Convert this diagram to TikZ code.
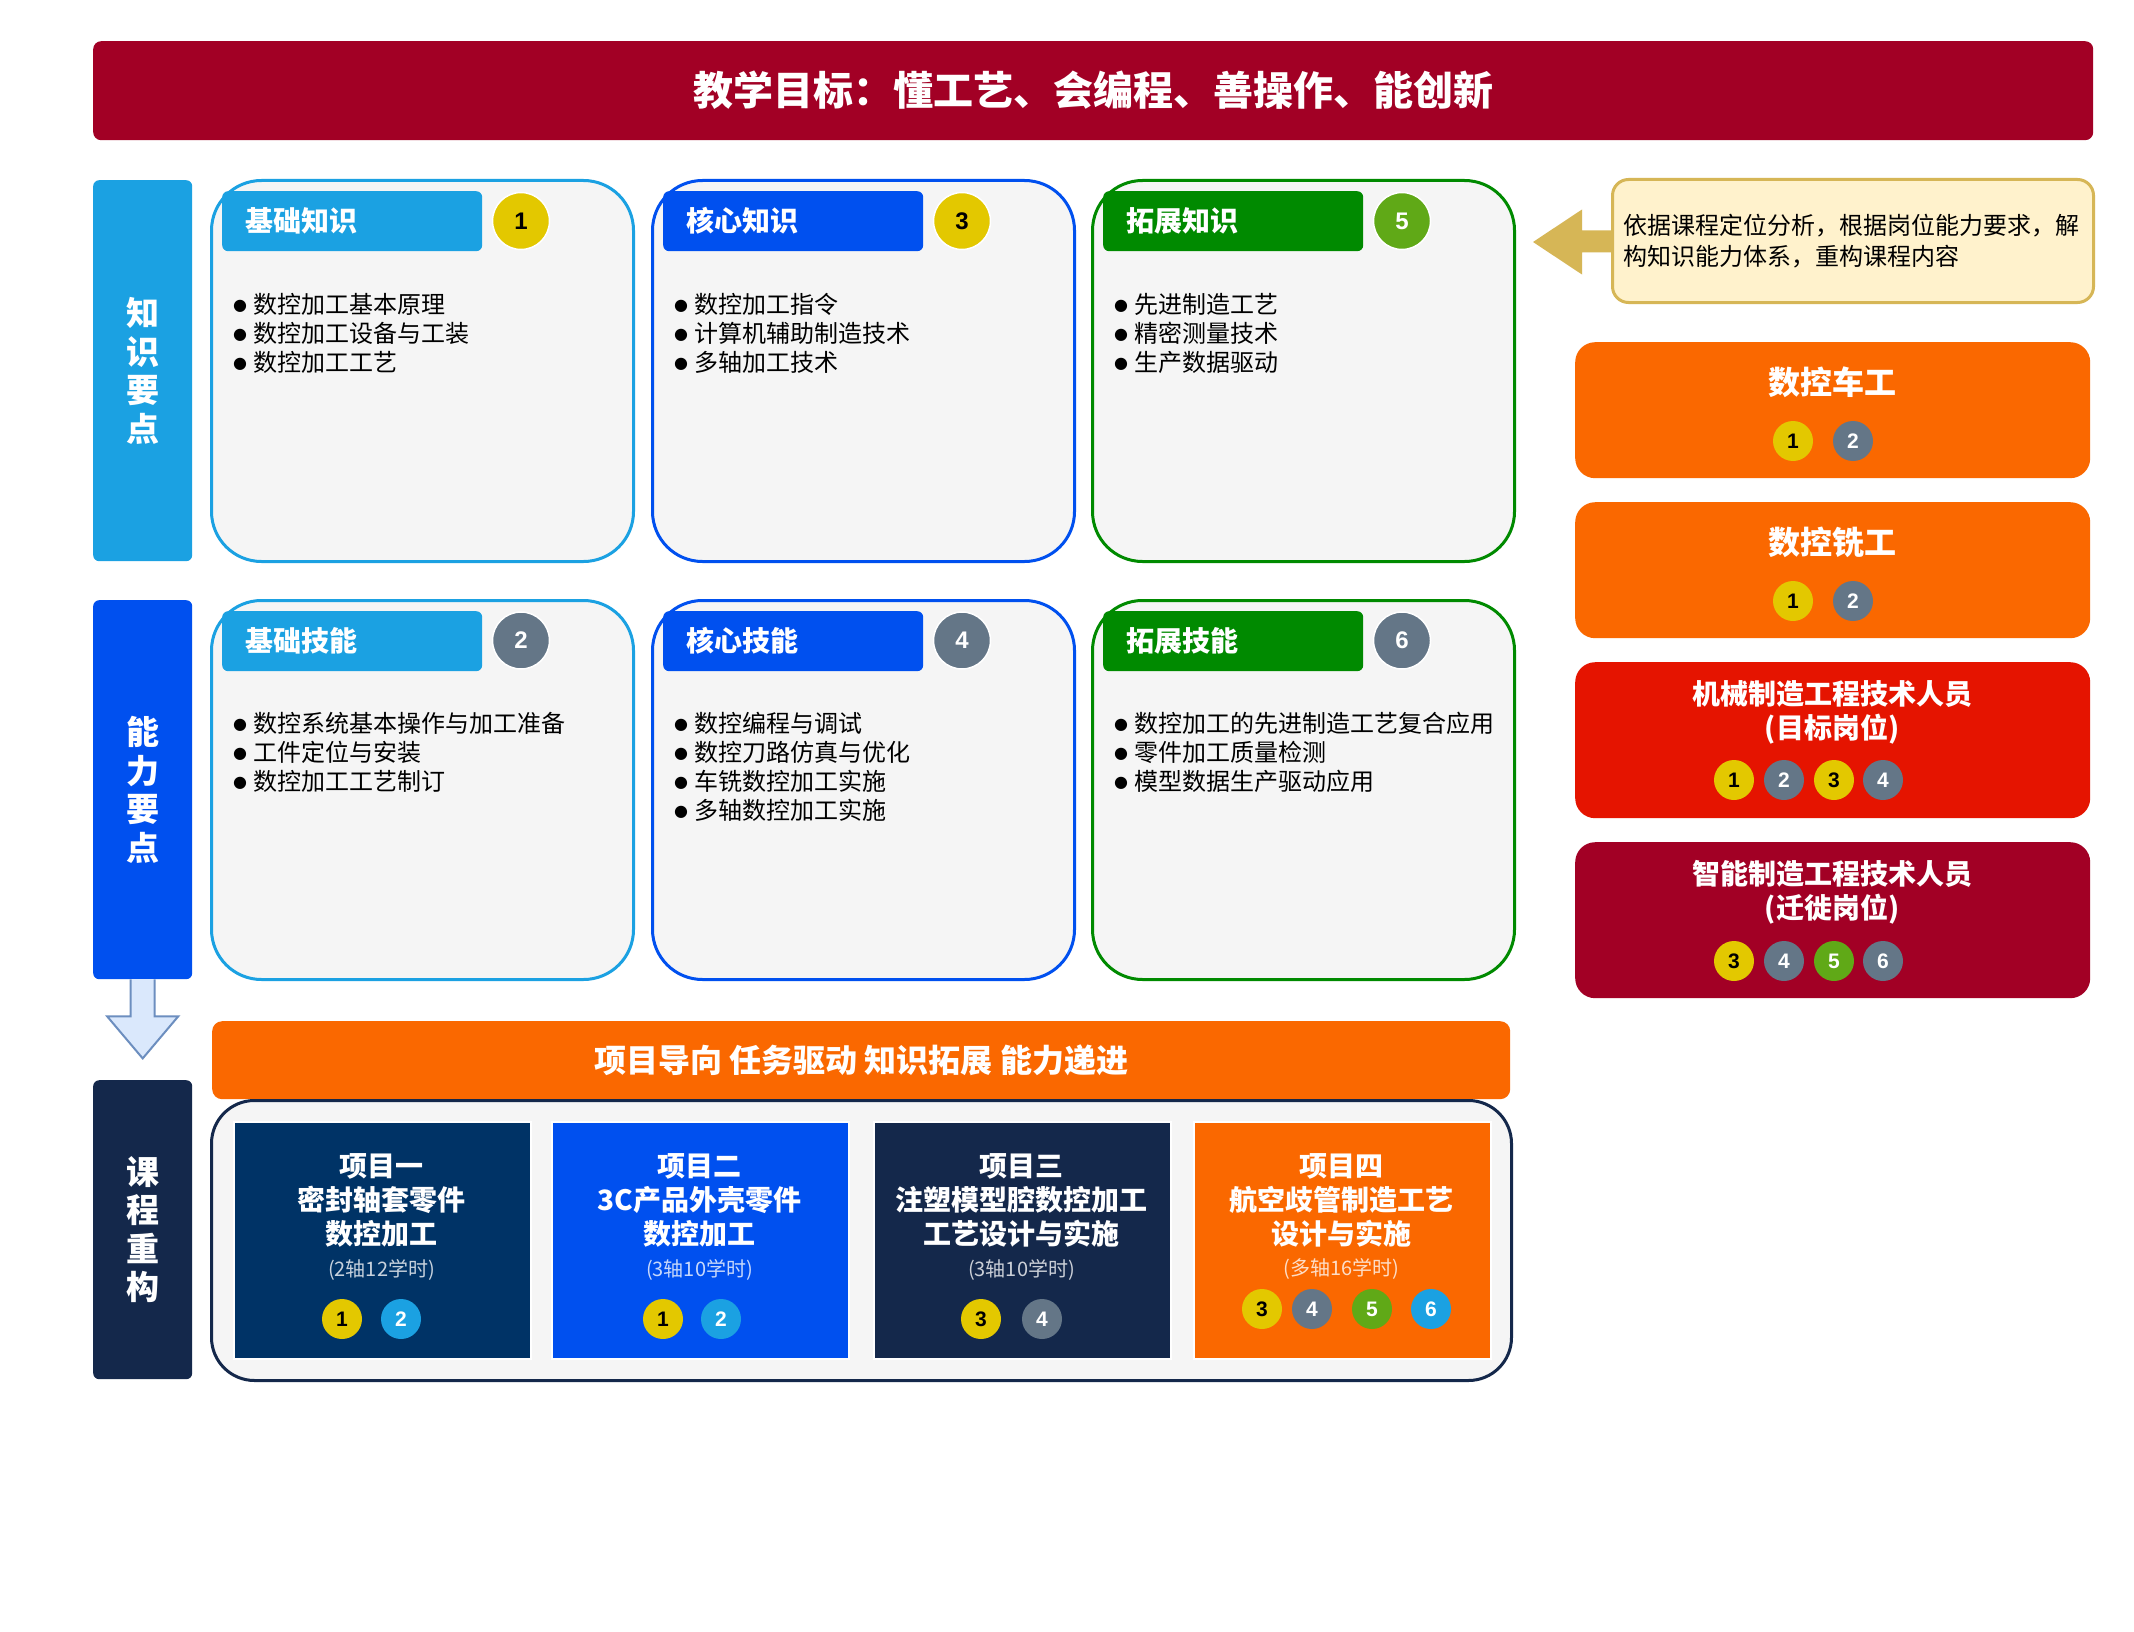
\documentclass[tikz,border=0pt]{standalone}
\usepackage{fontspec}
\setmainfont{Noto Sans CJK SC}
\newfontfamily\numf{Liberation Sans}
\newfontfamily\dejavu{DejaVu Sans}
\usetikzlibrary{calc}
\definecolor{titlered}{HTML}{A20025}
\definecolor{cA}{HTML}{1BA1E2}
\definecolor{cB}{HTML}{0050EF}
\definecolor{cC}{HTML}{008A00}
\definecolor{navy}{HTML}{14284B}
\definecolor{deepblue}{HTML}{003366}
\definecolor{orng}{HTML}{FA6800}
\definecolor{redc}{HTML}{E51400}
\definecolor{yel}{HTML}{E3C800}
\definecolor{slate}{HTML}{647687}
\definecolor{grn}{HTML}{60A917}
\definecolor{boxgray}{HTML}{F5F5F5}
\definecolor{notefill}{HTML}{FFF2CC}
\definecolor{notedraw}{HTML}{D6B656}
\definecolor{arrfill}{HTML}{DAE8FC}
\definecolor{arrdraw}{HTML}{6C8EBF}
\newcommand\fsz[2]{\fontsize{#1}{#2}\selectfont}
\newcommand\bul{\raisebox{3pt}{\dejavu\fontsize{16}{19}\selectfont ●}\hspace{6pt}}
\begin{document}
\begin{tikzpicture}[x=1pt,y=-1pt,
  sidebar/.style={fill=#1, rounded corners=6pt, minimum width=99pt, inner sep=0pt, anchor=north west, text=white, font=\bfseries\fsz{33}{38.5}, align=center},
  kbox/.style={draw=#1, fill=boxgray, line width=3pt, rounded corners=50pt, minimum width=422pt, minimum height=381pt, inner sep=0pt, anchor=north west},
  head/.style={fill=#1, rounded corners=6pt, text width=214pt, inner xsep=23pt, inner ysep=0pt, minimum height=60pt, align=left, anchor=north west, text=white, font=\bfseries\fsz{28}{34}},
  bignum/.style={circle, fill=#1, draw=white, line width=1.5pt, minimum size=57pt, inner sep=0pt, text=white, font=\numf\bfseries\fsz{24}{24}},
  smallnum/.style={circle, fill=#1, minimum size=40pt, inner sep=0pt, text=white, font=\numf\bfseries\fsz{21}{21}},
  dark/.style={text=black},
  bulletline/.style={anchor=west, inner sep=0pt, font=\fsz{24}{29}},
  card/.style={fill=#1, draw=white, line width=1.5pt, minimum width=297pt, minimum height=237pt, inner sep=0pt, anchor=north west},
  cardtitle/.style={text=white, font=\bfseries\fsz{28}{34}, align=center, inner sep=0pt},
  hours/.style={text=white, text opacity=0.78, font=\fsz{20}{24}, inner sep=0pt},
  job/.style={fill=#1, rounded corners=20pt, minimum width=515pt, inner sep=0pt, anchor=north west},
  jobtitle/.style={text=white, align=center, inner sep=0pt},
]
\useasboundingbox[fill=white] (0,0) rectangle (2134,1632);

% title
\node[fill=titlered, rounded corners=8pt, minimum width=2000pt, minimum height=99pt, inner sep=0pt, anchor=north west, text=white, font=\bfseries\fsz{40}{48}] (title) at (93,41) {教学目标：懂工艺、会编程、善操作、能创新};

% side bars
\node[sidebar=cA, minimum height=381pt] (kbar) at (93,180) {知\\识\\要\\点};
\node[sidebar=cB, minimum height=379pt] (abar) at (93,600) {能\\力\\要\\点};
\node[sidebar=navy, minimum height=299pt] (cbar) at (93,1080) {课\\程\\重\\构};

% knowledge row
\node[kbox=cA] (k1) at (210,179) {};
\node[head=cA] (k1h) at (222,191) {基础知识};
\node[bignum=yel, dark] (k1n) at (521,221) {1};
\node[bulletline] (k1a) at (233,304) {\bul 数控加工基本原理};
\node[bulletline] (k1b) at (233,333) {\bul 数控加工设备与工装};
\node[bulletline] (k1c) at (233,362) {\bul 数控加工工艺};

\node[kbox=cB] (k2) at (651,179) {};
\node[head=cB] (k2h) at (663,191) {核心知识};
\node[bignum=yel, dark] (k2n) at (962,221) {3};
\node[bulletline] (k2a) at (674,304) {\bul 数控加工指令};
\node[bulletline] (k2b) at (674,333) {\bul 计算机辅助制造技术};
\node[bulletline] (k2c) at (674,362) {\bul 多轴加工技术};

\node[kbox=cC] (k3) at (1091,179) {};
\node[head=cC] (k3h) at (1103,191) {拓展知识};
\node[bignum=grn] (k3n) at (1402,221) {5};
\node[bulletline] (k3a) at (1114,304) {\bul 先进制造工艺};
\node[bulletline] (k3b) at (1114,333) {\bul 精密测量技术};
\node[bulletline] (k3c) at (1114,362) {\bul 生产数据驱动};

% ability row
\node[kbox=cA, minimum height=379pt] (a1) at (210,599) {};
\node[head=cA] (a1h) at (222,611) {基础技能};
\node[bignum=slate] (a1n) at (521,640.5) {2};
\node[bulletline] (a1a) at (233,723) {\bul 数控系统基本操作与加工准备};
\node[bulletline] (a1b) at (233,752) {\bul 工件定位与安装};
\node[bulletline] (a1c) at (233,781) {\bul 数控加工工艺制订};

\node[kbox=cB, minimum height=379pt] (a2) at (651,599) {};
\node[head=cB] (a2h) at (663,611) {核心技能};
\node[bignum=slate] (a2n) at (962,640.5) {4};
\node[bulletline] (a2a) at (674,723) {\bul 数控编程与调试};
\node[bulletline] (a2b) at (674,752) {\bul 数控刀路仿真与优化};
\node[bulletline] (a2c) at (674,781) {\bul 车铣数控加工实施};
\node[bulletline] (a2d) at (674,810) {\bul 多轴数控加工实施};

\node[kbox=cC, minimum height=379pt] (a3) at (1091,599) {};
\node[head=cC] (a3h) at (1103,611) {拓展技能};
\node[bignum=slate] (a3n) at (1402,640.5) {6};
\node[bulletline] (a3a) at (1114,723) {\bul 数控加工的先进制造工艺复合应用};
\node[bulletline] (a3b) at (1114,752) {\bul 零件加工质量检测};
\node[bulletline] (a3c) at (1114,781) {\bul 模型数据生产驱动应用};

% down arrow from ability bar to course bar
\path[fill=arrfill, draw=arrdraw, line width=2pt, line join=miter]
  ($(abar.south)+(-12pt,0pt)$) -- ($(abar.south)+(-12pt,-37pt)$) -- ($(abar.south)+(-35.5pt,-37pt)$)
  -- ($(abar.south)+(0pt,-79pt)$) -- ($(abar.south)+(35.5pt,-37pt)$) -- ($(abar.south)+(12pt,-37pt)$)
  -- ($(abar.south)+(12pt,0pt)$);

% banner and project container
\node[fill=orng, rounded corners=10pt, minimum width=1298pt, minimum height=78pt, inner sep=0pt, anchor=north west, text=white, font=\bfseries\fsz{32}{38}] (banner) at (212,1021) {项目导向 任务驱动 知识拓展 能力递进};
\node[draw=navy, fill=boxgray, line width=3pt, rounded corners=43pt, minimum width=1300pt, minimum height=280pt, inner sep=0pt, anchor=north west] (cont) at (210,1099) {};

% project cards
\node[card=deepblue] (p1) at (233,1121) {};
\node[cardtitle] (p1t) at (381.5,1200) {项目一\\密封轴套零件\\数控加工};
\node[hours] (p1h) at (381.5,1270) {(2轴12学时)};
\node[smallnum=yel, dark] (p1a) at (342,1319) {1};
\node[smallnum=cA] (p1b) at (401,1319) {2};

\node[card=cB] (p2) at (551,1121) {};
\node[cardtitle] (p2t) at (699.5,1200) {项目二\\3C产品外壳零件\\数控加工};
\node[hours] (p2h) at (699.5,1270) {(3轴10学时)};
\node[smallnum=yel, dark] (p2a) at (663,1319) {1};
\node[smallnum=cA] (p2b) at (721,1319) {2};

\node[card=navy] (p3) at (873,1121) {};
\node[cardtitle] (p3t) at (1021.5,1200) {项目三\\注塑模型腔数控加工\\工艺设计与实施};
\node[hours] (p3h) at (1021.5,1270) {(3轴10学时)};
\node[smallnum=yel, dark] (p3a) at (981,1319) {3};
\node[smallnum=slate] (p3b) at (1042,1319) {4};

\node[card=orng] (p4) at (1193,1121) {};
\node[cardtitle] (p4t) at (1341.5,1200) {项目四\\航空歧管制造工艺\\设计与实施};
\node[hours] (p4h) at (1341.5,1269) {(多轴16学时)};
\node[smallnum=yel, dark] (p4a) at (1262,1309) {3};
\node[smallnum=slate] (p4b) at (1312,1309) {4};
\node[smallnum=grn] (p4c) at (1372,1309) {5};
\node[smallnum=cA] (p4d) at (1431,1309) {6};

% note and arrow
\node[fill=notefill, draw=notedraw, line width=3pt, rounded corners=16pt, minimum width=481pt, minimum height=123pt, inner sep=0pt, anchor=north west] (note) at (1611,178) {};
\node[anchor=west, align=left, inner sep=0pt, font=\fsz{24}{31}] (notet) at (1623,241.5) {依据课程定位分析，根据岗位能力要求，解\\构知识能力体系，重构课程内容};
\fill[notedraw] ($(note.west)+(1pt,10.5pt)$) -- ($(note.west)+(-29pt,10.5pt)$) -- ($(note.west)+(-29pt,31.5pt)$)
  -- ($(note.west)+(-78pt,-1pt)$) -- ($(note.west)+(-29pt,-33.5pt)$) -- ($(note.west)+(-29pt,-11.5pt)$)
  -- ($(note.west)+(1pt,-11.5pt)$) -- cycle;

% job boxes
\node[job=orng, minimum height=136pt] (j1) at (1575,342) {};
\node[jobtitle, font=\bfseries\fsz{32}{38}] (j1t) at (1832,382) {数控车工};
\node[smallnum=yel, dark] (j1a) at (1793,441) {1};
\node[smallnum=slate] (j1b) at (1853,441) {2};

\node[job=orng, minimum height=136pt] (j2) at (1575,502) {};
\node[jobtitle, font=\bfseries\fsz{32}{38}] (j2t) at (1832,542) {数控铣工};
\node[smallnum=yel, dark] (j2a) at (1793,601) {1};
\node[smallnum=slate] (j2b) at (1853,601) {2};

\node[job=redc, minimum height=156pt] (j3) at (1575,662) {};
\node[jobtitle, font=\bfseries\fsz{28}{34}] (j3t) at (1832,712) {机械制造工程技术人员\\(目标岗位)};
\node[smallnum=yel, dark] (j3a) at (1734,780) {1};
\node[smallnum=slate] (j3b) at (1784,780) {2};
\node[smallnum=yel, dark] (j3c) at (1834,780) {3};
\node[smallnum=slate] (j3d) at (1883,780) {4};

\node[job=titlered, minimum height=156pt] (j4) at (1575,842) {};
\node[jobtitle, font=\bfseries\fsz{28}{34}] (j4t) at (1832,892) {智能制造工程技术人员\\(迁徙岗位)};
\node[smallnum=yel, dark] (j4a) at (1734,961) {3};
\node[smallnum=slate] (j4b) at (1784,961) {4};
\node[smallnum=grn] (j4c) at (1834,961) {5};
\node[smallnum=slate] (j4d) at (1883,961) {6};
\end{tikzpicture}
\end{document}
